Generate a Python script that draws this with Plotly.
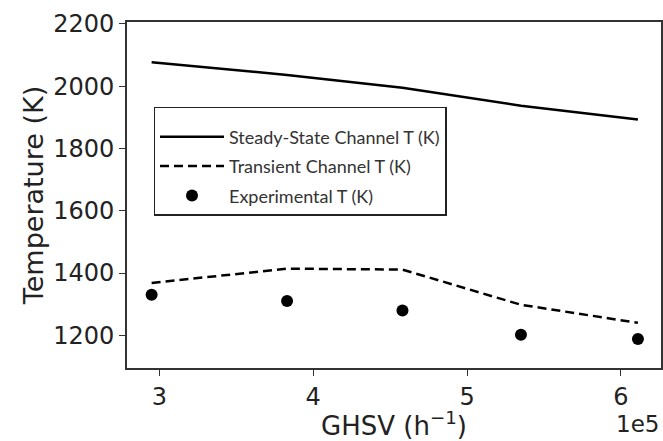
import plotly.graph_objects as go

ghsv = [295000, 383000, 458000, 535000, 611000]
steady_T = [2077, 2036, 1995, 1937, 1893]
transient_T = [1368, 1414, 1411, 1298, 1240]
exp_T = [1330, 1310, 1280, 1202, 1188]

xs = [v / 1e5 for v in ghsv]

fig = go.Figure()
fig.add_trace(go.Scatter(x=xs, y=steady_T, mode="lines", name="Steady-State Channel T (K)",
                         line=dict(color="black", width=2.5), legendgroup="a"))
fig.add_trace(go.Scatter(x=xs, y=transient_T, mode="lines", name="Transient Channel T (K)",
                         line=dict(color="black", width=2.5, dash="9px,5px"), legendgroup="b"))
fig.add_trace(go.Scatter(x=xs, y=exp_T, mode="markers", name="Experimental T (K)",
                         marker=dict(color="black", size=12), legendgroup="c"))

axis_common = dict(showline=True, linecolor="#333", linewidth=1.6, mirror=True,
                   ticks="outside", ticklen=6, tickwidth=1.4, tickcolor="#333",
                   showgrid=False, zeroline=False,
                   tickfont=dict(family="DejaVu Sans", size=24, color="#222"))

fig.update_layout(
    width=663, height=441,
    margin=dict(l=127, r=0, t=22, b=70),
    plot_bgcolor="white", paper_bgcolor="white",
    showlegend=True,
    legend=dict(x=0.05, y=0.755, xanchor="left", yanchor="top",
                bordercolor="#222", borderwidth=1.3, bgcolor="white",
                font=dict(family="Lato", size=18, color="#333"),
                tracegroupgap=3, itemwidth=64,
                title=dict(text=" ", font=dict(size=8))),
    xaxis=dict(range=[2.79, 6.26], tickvals=[3, 4, 5, 6], ticktext=["3", "4", "5", "6"],
               title=dict(text="GHSV (h<sup>−1</sup>)", font=dict(family="DejaVu Sans", size=26, color="#222"),
                          standoff=12),
               **axis_common),
    yaxis=dict(range=[1095, 2206], tickvals=[1200, 1400, 1600, 1800, 2000, 2200],
               title=dict(text="Temperature (K)", font=dict(family="DejaVu Sans", size=27, color="#222"),
                          standoff=2),
               **axis_common),
)
fig.add_annotation(text="1e5", xref="paper", yref="paper", x=1.0, y=-0.163, xanchor="right",
                   yanchor="middle", showarrow=False, font=dict(family="DejaVu Sans", size=23, color="#222"))

fig.write_html("out.html")
